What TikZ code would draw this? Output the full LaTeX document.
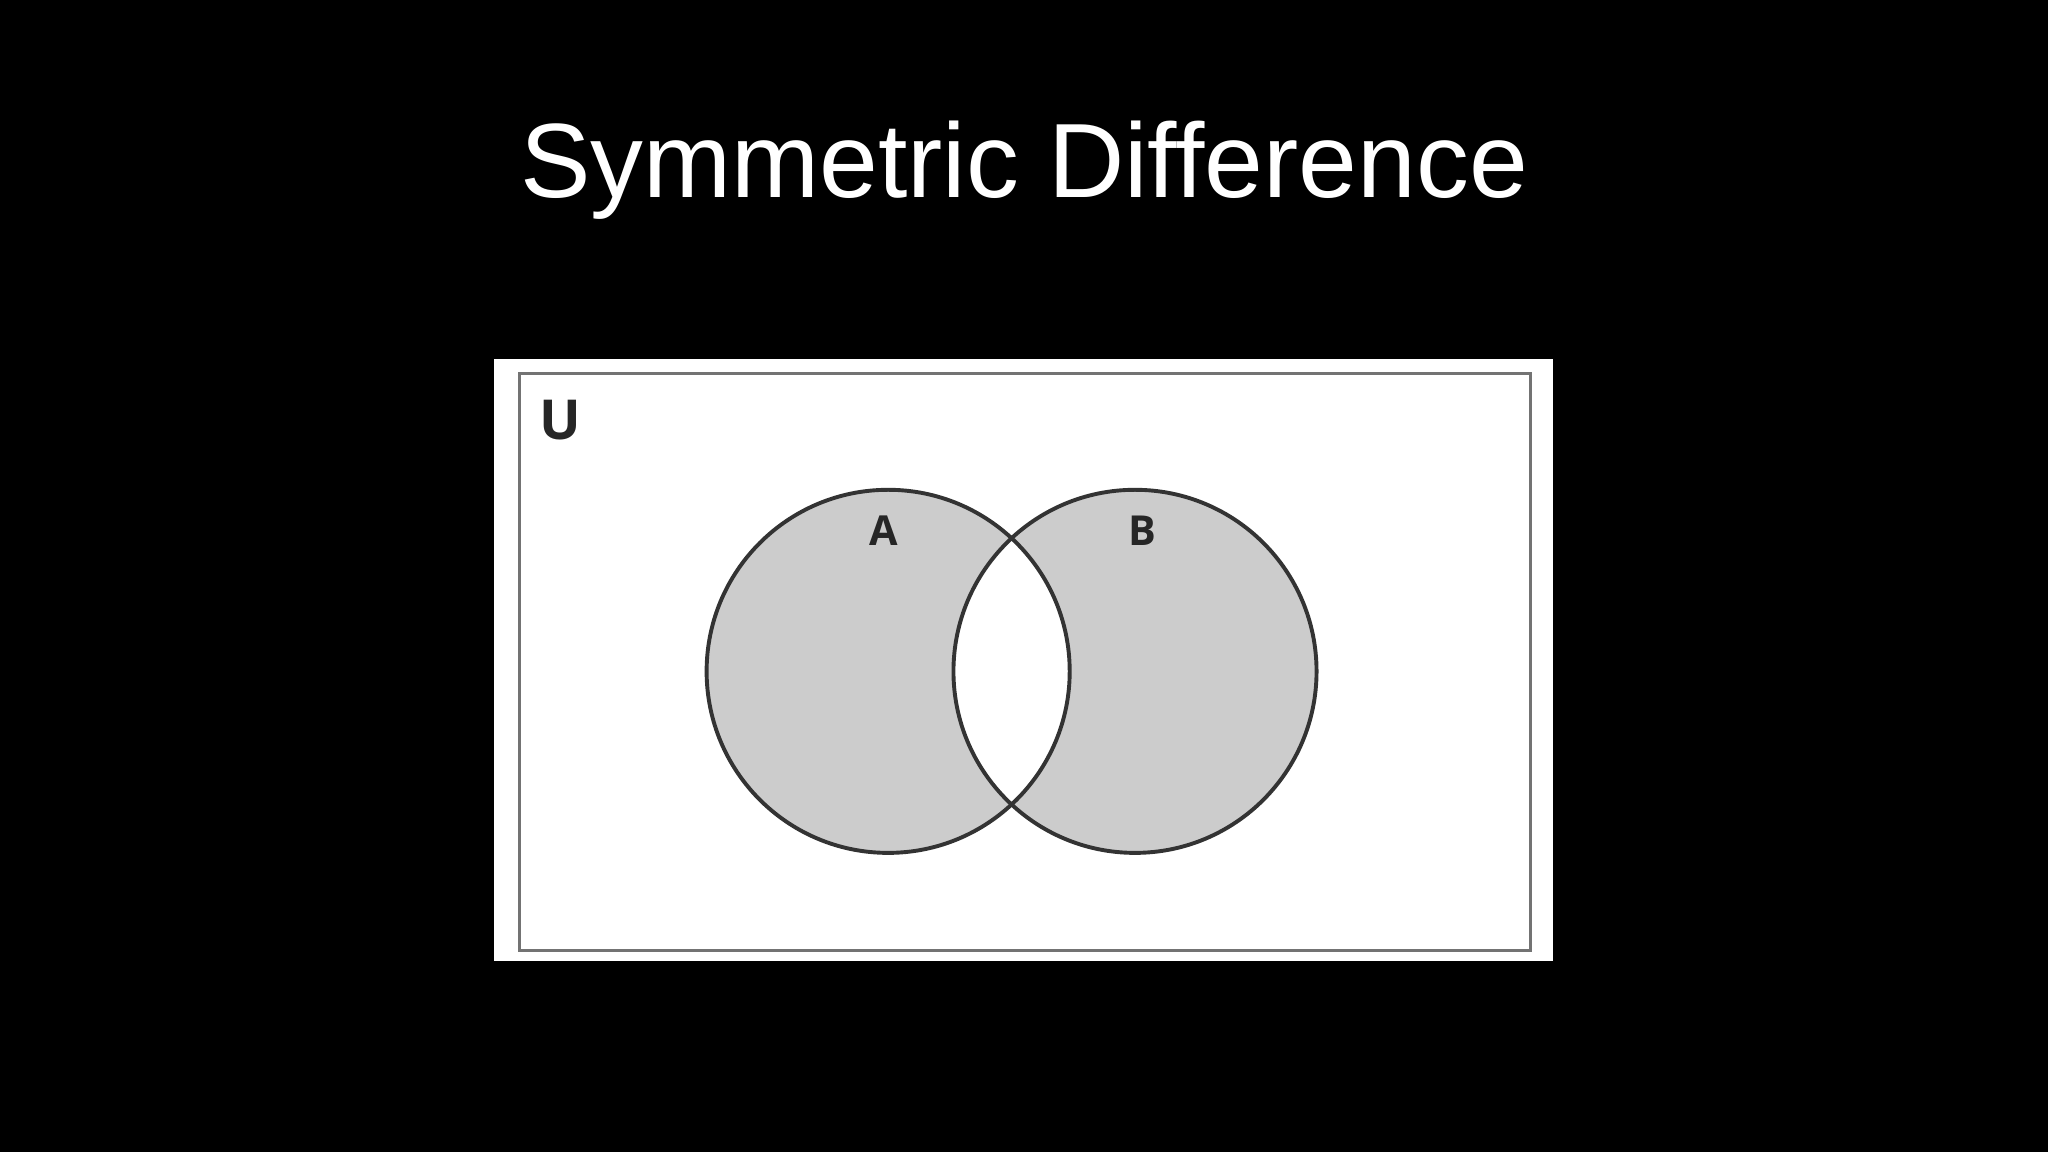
\documentclass[tikz,border=0pt]{standalone}
\usepackage{fontspec}
\setmainfont{Liberation Sans}
\newfontfamily\lblfont{Open Sans}
\begin{document}
\begin{tikzpicture}[x=0.01cm,y=-0.01cm,
  setcircle/.style={draw=black!80,line width=0.85pt},
  lbl/.style={font=\lblfont\bfseries\fontsize{9}{9}\selectfont,text=black!85}]
\fill[black] (0,0) rectangle (1568,882);
\useasboundingbox (0,0) rectangle (1568,882);
\node[text=white,font=\fontsize{23}{23}\selectfont] (title) at (784,130) {Symmetric Difference};
\fill[white] (378,275) rectangle (1189,736);
\draw[black!55,line width=0.6pt] (398,286) rectangle (1172,728);
\fill[black!20,even odd rule] (680,514) circle (139) (869,514) circle (139);
\draw[setcircle] (680,514) circle (139);
\draw[setcircle] (869,514) circle (139);
\node[lbl,font=\lblfont\bfseries\fontsize{12}{12}\selectfont] (u) at (429,322) {U};
\node[lbl] (a) at (677,406) {A};
\node[lbl] (b) at (875,406) {B};
\end{tikzpicture}
\end{document}
